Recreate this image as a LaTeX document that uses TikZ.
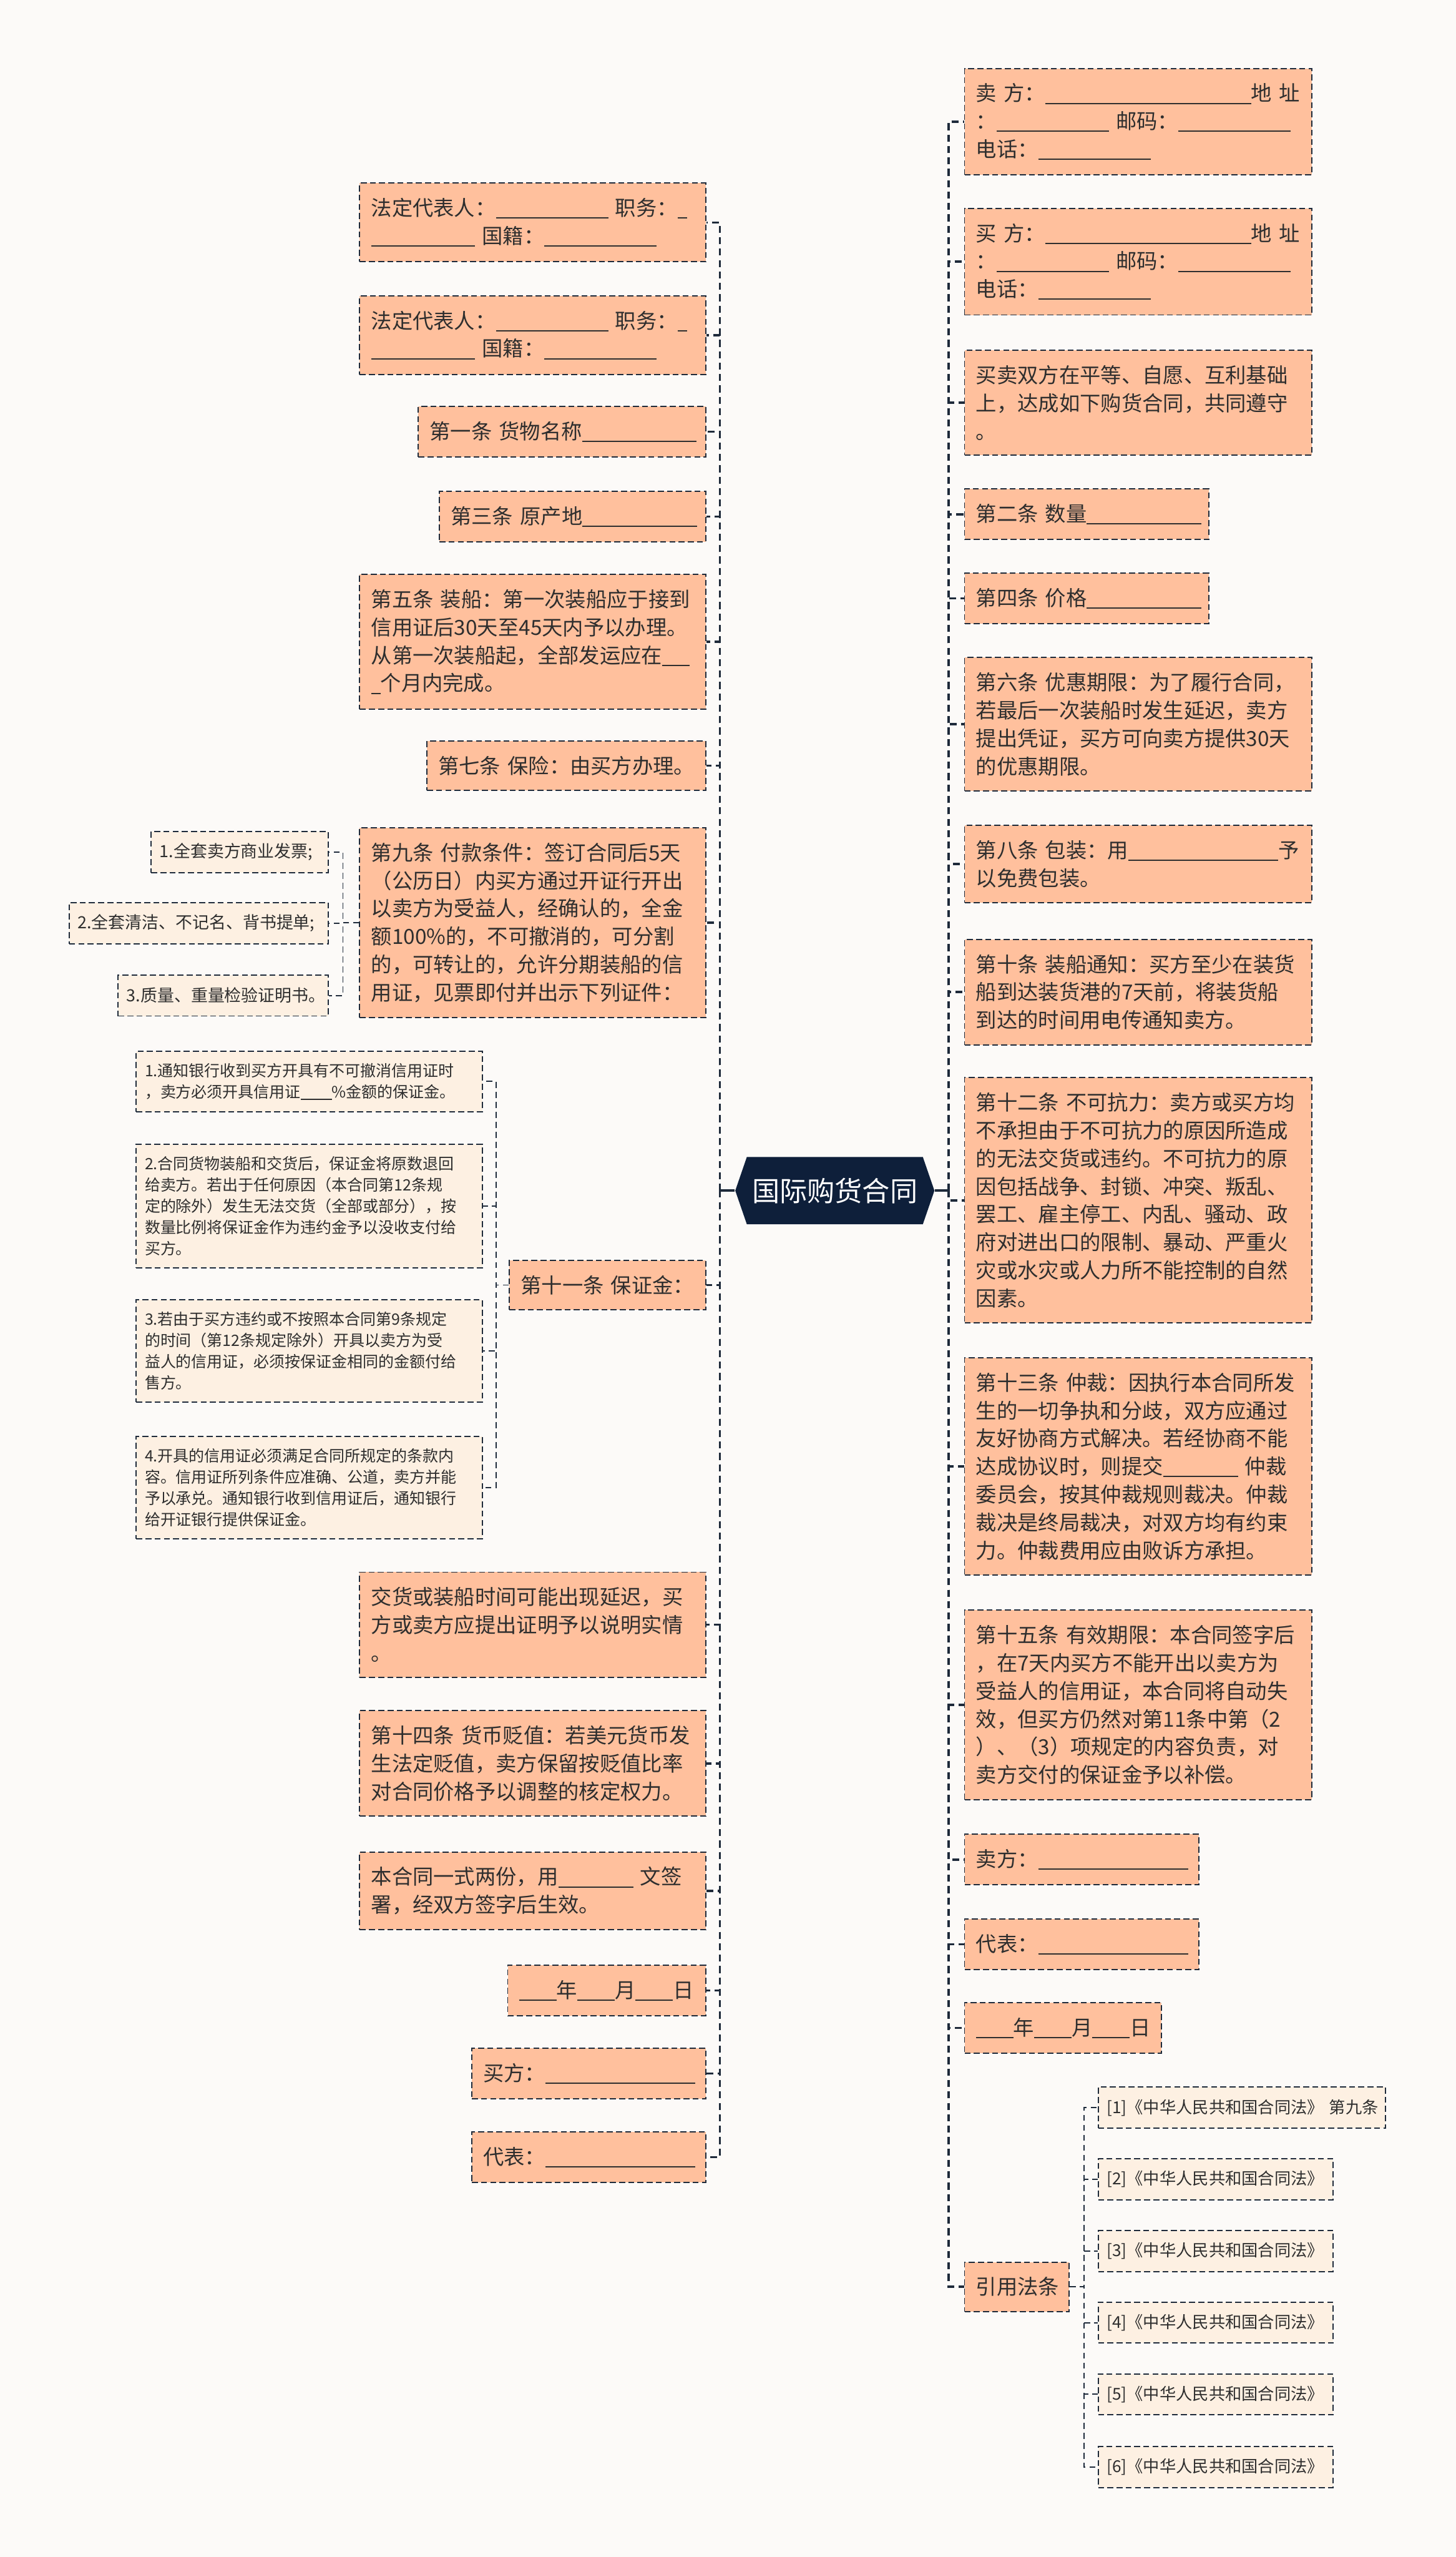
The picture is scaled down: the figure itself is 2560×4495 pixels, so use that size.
\documentclass[tikz,border=0pt]{standalone}
\usepackage{fontspec}
\setmainfont{Noto Sans CJK SC}
\usetikzlibrary{shapes.symbols}

\definecolor{fond}{HTML}{FCFAF8}
\definecolor{peche}{HTML}{FFC09D}
\definecolor{creme}{HTML}{FDF0E2}
\definecolor{trait}{HTML}{1E2A3A}
\definecolor{nuit}{HTML}{0E1F3A}
\definecolor{encre}{HTML}{2E2E2E}

\newcommand{\trou}[1]{\rule[-0.14em]{#1em}{0.06em}}

\begin{document}
\begin{tikzpicture}[x=0.01cm,y=-0.01cm]
\tikzstyle{lien}=[line width=1.1pt,color=trait,dash pattern=on 3.5pt off 2.2pt]
\tikzstyle{souslien}=[line width=0.6pt,color=trait,dash pattern=on 3pt off 2pt]
\tikzstyle{tige}=[line width=1.1pt,color=trait]
\tikzset{article/.style={draw=trait,line width=0.6pt,dash pattern=on 3pt off 1.6pt,fill=#1,text=encre,align=left,
  font=\fontsize{10.4pt}{14pt}\selectfont,inner xsep=0.2cm,inner ysep=7.5pt,minimum height=0.86cm},
article/.default={peche},
annexe/.style={article=creme,font=\fontsize{7.8pt}{10.6pt}\selectfont,inner xsep=0.15cm,inner ysep=6pt,minimum height=0.72cm},
piece/.style={annexe,font=\fontsize{8.4pt}{10.6pt}\selectfont},
loi/.style={annexe,font=\fontsize{8.2pt}{10.6pt}\selectfont},
racine/.style={signal,signal to=west and east,signal pointer angle=142,fill=nuit,text=white,
  font=\fontsize{13.8pt}{16pt}\selectfont,minimum width=3.5cm,minimum height=1.18cm,inner xsep=1pt}}

\useasboundingbox (0,0) rectangle (2560,4495);
\fill[fond] (0,0) rectangle (2560,4495);

\node[racine] (C) at (1468,2093) {国际购货合同};
\coordinate (lj) at (1266,2093);
\coordinate (rj) at (1668,2093);

% gauche
\node[article,anchor=east,text width=5.68cm] (L1) at (1242,391) {法定代表人：\trou{5.4}~职务：\trou{0.45}\\\trou{5}~国籍：\trou{5.4}};
\node[article,anchor=east,text width=5.68cm] (L2) at (1242,589) {法定代表人：\trou{5.4}~职务：\trou{0.45}\\\trou{5}~国籍：\trou{5.4}};
\node[article,anchor=east,text width=4.65cm] (L3) at (1242,759) {第一条~货物名称\trou{5.5}};
\node[article,anchor=east,text width=4.28cm] (L4) at (1242,908) {第三条~原产地\trou{5.5}};
\node[article,anchor=east,text width=5.68cm] (L5) at (1242,1128) {第五条~装船：第一次装船应于接到\\信用证后30天至45天内予以办理。\\从第一次装船起，全部发运应在\trou{1.3}\\\trou{0.45}个月内完成。};
\node[article,anchor=east,text width=4.5cm] (L6) at (1242,1346) {第七条~保险：由买方办理。};
\node[article,anchor=east,text width=5.68cm] (L7) at (1242,1622) {第九条~付款条件：签订合同后5天\\（公历日）内买方通过开证行开出\\以卖方为受益人，经确认的，全金\\额100\%的，不可撤消的，可分割\\的，可转让的，允许分期装船的信\\用证，见票即付并出示下列证件：};
\node[piece,anchor=east,text width=2.81cm] (L7a) at (578,1498) {1.全套卖方商业发票;};
\node[piece,anchor=east,text width=4.25cm] (L7b) at (578,1623) {2.全套清洁、不记名、背书提单;};
\node[piece,anchor=east,text width=3.39cm] (L7c) at (578,1750) {3.质量、重量检验证明书。};
\node[article,anchor=east,text width=3.05cm] (L8) at (1242,2259) {第十一条~保证金：};
\node[annexe,anchor=east,text width=5.78cm] (L8a) at (849,1901) {1.通知银行收到买方开具有不可撤消信用证时\\，卖方必须开具信用证\trou{2}\%金额的保证金。};
\node[annexe,anchor=east,text width=5.78cm] (L8b) at (849,2120) {2.合同货物装船和交货后，保证金将原数退回\\给卖方。若出于任何原因（本合同第12条规\\定的除外）发生无法交货（全部或部分），按\\数量比例将保证金作为违约金予以没收支付给\\买方。};
\node[annexe,anchor=east,text width=5.78cm] (L8c) at (849,2375) {3.若由于买方违约或不按照本合同第9条规定\\的时间（第12条规定除外）开具以卖方为受\\益人的信用证，必须按保证金相同的金额付给\\售方。};
\node[annexe,anchor=east,text width=5.78cm] (L8d) at (849,2615) {4.开具的信用证必须满足合同所规定的条款内\\容。信用证所列条件应准确、公道，卖方并能\\予以承兑。通知银行收到信用证后，通知银行\\给开证银行提供保证金。};
\node[article,anchor=east,text width=5.68cm] (L9) at (1242,2856) {交货或装船时间可能出现延迟，买\\方或卖方应提出证明予以说明实情\\。};
\node[article,anchor=east,text width=5.68cm] (L10) at (1242,3100) {第十四条~货币贬值：若美元货币发\\生法定贬值，卖方保留按贬值比率\\对合同价格予以调整的核定权力。};
\node[article,anchor=east,text width=5.68cm] (L11) at (1242,3324) {本合同一式两份，用\trou{3.6}~文签\\署，经双方签字后生效。};
\node[article,anchor=east,text width=3.08cm] (L12) at (1242,3499) {\trou{1.8}年\trou{1.8}月\trou{1.8}日};
\node[article,anchor=east,text width=3.71cm] (L13) at (1242,3645) {买方：\trou{7.2}};
\node[article,anchor=east,text width=3.71cm] (L14) at (1242,3792) {代表：\trou{7.2}};

% droite
\node[article,anchor=west,text width=5.7cm] (R1) at (1695,214) {卖~方：\trou{9.9}地~址\\：\trou{5.4}~邮码：\trou{5.4}\\电话：\trou{5.4}};
\node[article,anchor=west,text width=5.7cm] (R2) at (1695,460) {买~方：\trou{9.9}地~址\\：\trou{5.4}~邮码：\trou{5.4}\\电话：\trou{5.4}};
\node[article,anchor=west,text width=5.7cm] (R3) at (1695,708) {买卖双方在平等、自愿、互利基础\\上，达成如下购货合同，共同遵守\\。};
\node[article,anchor=west,text width=3.89cm] (R4) at (1695,904) {第二条~数量\trou{5.5}};
\node[article,anchor=west,text width=3.89cm] (R5) at (1695,1052) {第四条~价格\trou{5.5}};
\node[article,anchor=west,text width=5.7cm] (R6) at (1695,1273) {第六条~优惠期限：为了履行合同，\\若最后一次装船时发生延迟，卖方\\提出凭证，买方可向卖方提供30天\\的优惠期限。};
\node[article,anchor=west,text width=5.7cm] (R7) at (1695,1519) {第八条~包装：用\trou{7.2}予\\以免费包装。};
\node[article,anchor=west,text width=5.7cm] (R8) at (1695,1744) {第十条~装船通知：买方至少在装货\\船到达装货港的7天前，将装货船\\到达的时间用电传通知卖方。};
\node[article,anchor=west,text width=5.7cm] (R9) at (1695,2110) {第十二条~不可抗力：卖方或买方均\\不承担由于不可抗力的原因所造成\\的无法交货或违约。不可抗力的原\\因包括战争、封锁、冲突、叛乱、\\罢工、雇主停工、内乱、骚动、政\\府对进出口的限制、暴动、严重火\\灾或水灾或人力所不能控制的自然\\因素。};
\node[article,anchor=west,text width=5.7cm] (R10) at (1695,2578) {第十三条~仲裁：因执行本合同所发\\生的一切争执和分歧，双方应通过\\友好协商方式解决。若经协商不能\\达成协议时，则提交\trou{3.6}~仲裁\\委员会，按其仲裁规则裁决。仲裁\\裁决是终局裁决，对双方均有约束\\力。仲裁费用应由败诉方承担。};
\node[article,anchor=west,text width=5.7cm] (R11) at (1695,2997) {第十五条~有效期限：本合同签字后\\，在7天内买方不能开出以卖方为\\受益人的信用证，本合同将自动失\\效，但买方仍然对第11条中第（2\\）、（3）项规定的内容负责，对\\卖方交付的保证金予以补偿。};
\node[article,anchor=west,text width=3.72cm] (R12) at (1695,3269) {卖方：\trou{7.2}};
\node[article,anchor=west,text width=3.72cm] (R13) at (1695,3418) {代表：\trou{7.2}};
\node[article,anchor=west,text width=3.06cm] (R14) at (1695,3565) {\trou{1.8}年\trou{1.8}月\trou{1.8}日};
\node[article,anchor=west,text width=1.44cm] (R15) at (1695,4020) {引用法条};
\node[loi,anchor=west,text width=4.75cm] (R15a) at (1930,3705) {[1]《中华人民共和国合同法》~第九条};
\node[loi,anchor=west,text width=3.83cm] (R15b) at (1930,3831) {[2]《中华人民共和国合同法》};
\node[loi,anchor=west,text width=3.83cm] (R15c) at (1930,3957) {[3]《中华人民共和国合同法》};
\node[loi,anchor=west,text width=3.83cm] (R15d) at (1930,4083) {[4]《中华人民共和国合同法》};
\node[loi,anchor=west,text width=3.83cm] (R15e) at (1930,4209) {[5]《中华人民共和国合同法》};
\node[loi,anchor=west,text width=3.83cm] (R15f) at (1930,4337) {[6]《中华人民共和国合同法》};

\coordinate (j9) at (603,1622);
\coordinate (j11) at (872,2259);
\coordinate (jr) at (1906,4020);

\draw[tige] (C.west) -- (lj);
\draw[tige] (C.east) -- (rj);

\draw[lien] (lj) |- (L1.east);
\draw[lien] (lj) |- (L2.east);
\draw[lien] (lj) |- (L3.east);
\draw[lien] (lj) |- (L4.east);
\draw[lien] (lj) |- (L5.east);
\draw[lien] (lj) |- (L6.east);
\draw[lien] (lj) |- (L7.east);
\draw[lien] (lj) |- (L8.east);
\draw[lien] (lj) |- (L9.east);
\draw[lien] (lj) |- (L10.east);
\draw[lien] (lj) |- (L11.east);
\draw[lien] (lj) |- (L12.east);
\draw[lien] (lj) |- (L13.east);
\draw[lien] (lj) |- (L14.east);

\draw[lien] (rj) |- (R1.west);
\draw[lien] (rj) |- (R2.west);
\draw[lien] (rj) |- (R3.west);
\draw[lien] (rj) |- (R4.west);
\draw[lien] (rj) |- (R5.west);
\draw[lien] (rj) |- (R6.west);
\draw[lien] (rj) |- (R7.west);
\draw[lien] (rj) |- (R8.west);
\draw[lien] (rj) |- (R9.west);
\draw[lien] (rj) |- (R10.west);
\draw[lien] (rj) |- (R11.west);
\draw[lien] (rj) |- (R12.west);
\draw[lien] (rj) |- (R13.west);
\draw[lien] (rj) |- (R14.west);
\draw[lien] (rj) |- (R15.west);

\draw[souslien] (L7.west) -- (j9) |- (L7a.east);
\draw[souslien] (L7.west) -- (j9) |- (L7b.east);
\draw[souslien] (L7.west) -- (j9) |- (L7c.east);

\draw[souslien] (L8.west) -- (j11) |- (L8a.east);
\draw[souslien] (L8.west) -- (j11) |- (L8b.east);
\draw[souslien] (L8.west) -- (j11) |- (L8c.east);
\draw[souslien] (L8.west) -- (j11) |- (L8d.east);

\draw[souslien] (R15.east) -- (jr) |- (R15a.west);
\draw[souslien] (R15.east) -- (jr) |- (R15b.west);
\draw[souslien] (R15.east) -- (jr) |- (R15c.west);
\draw[souslien] (R15.east) -- (jr) |- (R15d.west);
\draw[souslien] (R15.east) -- (jr) |- (R15e.west);
\draw[souslien] (R15.east) -- (jr) |- (R15f.west);

\end{tikzpicture}
\end{document}
